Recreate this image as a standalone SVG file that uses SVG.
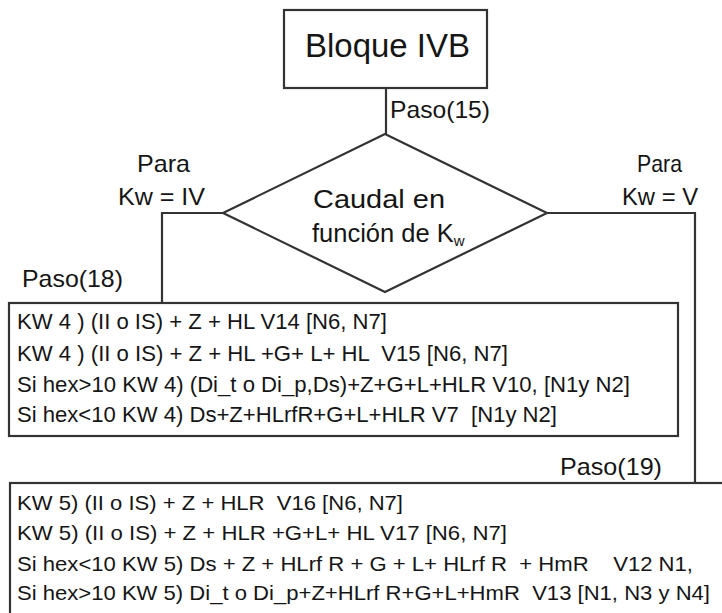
<svg xmlns="http://www.w3.org/2000/svg" width="722" height="613" viewBox="0 0 722 613">
<style>
.t{font-family:"Liberation Sans",Arial,sans-serif;fill:#151515}
.box{fill:#fff;stroke:#333;stroke-width:2.2}
.ln{fill:none;stroke:#333;stroke-width:2.2}
.s22{font-size:22px}
.s21{font-size:21px}
.s24{font-size:24px}
</style>
<rect width="722" height="613" fill="#fff"/>
<g id="connectors">
<path class="ln" d="M386,88 V134"/>
<path class="ln" d="M223,213 H162 V303"/>
<path class="ln" d="M547,213 H695 V483"/>
</g>
<g id="bloque">
<rect class="box" x="284" y="10" width="203" height="78"/>
<text class="t" x="305" y="57" font-size="34" textLength="165" lengthAdjust="spacingAndGlyphs">Bloque IVB</text>
</g>
<g id="paso15">
<text class="t s24" x="390" y="118" textLength="100" lengthAdjust="spacingAndGlyphs">Paso(15)</text>
</g>
<g id="decision">
<polygon class="box" points="385,134 547,213 385,292 223,213"/>
<text class="t" x="313" y="208" font-size="26" textLength="132" lengthAdjust="spacingAndGlyphs">Caudal en</text>
<text class="t" x="312" y="242" font-size="25.5">función de K<tspan font-size="15" dy="4">w</tspan></text>
</g>
<g id="label-iv">
<text class="t s24" x="137" y="172" textLength="53" lengthAdjust="spacingAndGlyphs">Para</text>
<text class="t s24" x="118" y="205" textLength="87" lengthAdjust="spacingAndGlyphs">Kw = IV</text>
</g>
<g id="label-v">
<text class="t s24" x="637" y="172" textLength="45" lengthAdjust="spacingAndGlyphs">Para</text>
<text class="t s24" x="622" y="205" textLength="76" lengthAdjust="spacingAndGlyphs">Kw = V</text>
</g>
<g id="paso18">
<text class="t s24" x="22" y="287" textLength="101" lengthAdjust="spacingAndGlyphs">Paso(18)</text>
</g>
<g id="box-kw4">
<rect class="box" x="9" y="303" width="669" height="133"/>
<text class="t s22" x="17" y="329" textLength="370" lengthAdjust="spacingAndGlyphs">KW 4 ) (II o IS) + Z + HL V14 [N6, N7]</text>
<text class="t s22" x="17" y="361" textLength="491" lengthAdjust="spacingAndGlyphs" xml:space="preserve">KW 4 ) (II o IS) + Z + HL +G+ L+ HL  V15 [N6, N7]</text>
<text class="t s22" x="17" y="392" textLength="613" lengthAdjust="spacingAndGlyphs">Si hex&gt;10 KW 4) (Di_t o Di_p,Ds)+Z+G+L+HLR V10, [N1y N2]</text>
<text class="t s22" x="17" y="422" textLength="540" lengthAdjust="spacingAndGlyphs" xml:space="preserve">Si hex&lt;10 KW 4) Ds+Z+HLrfR+G+L+HLR V7  [N1y N2]</text>
</g>
<g id="paso19">
<text class="t s24" x="560" y="475" textLength="102" lengthAdjust="spacingAndGlyphs">Paso(19)</text>
</g>
<g id="box-kw5">
<rect class="box" x="10" y="483" width="730" height="150"/>
<text class="t s21" x="17" y="510" textLength="386" lengthAdjust="spacingAndGlyphs" xml:space="preserve">KW 5) (II o IS) + Z + HLR  V16 [N6, N7]</text>
<text class="t s21" x="17" y="540" textLength="490" lengthAdjust="spacingAndGlyphs">KW 5) (II o IS) + Z + HLR +G+L+ HL V17 [N6, N7]</text>
<text class="t s21" x="17" y="571" textLength="676" lengthAdjust="spacingAndGlyphs" xml:space="preserve">Si hex&lt;10 KW 5) Ds + Z + HLrf R + G + L+ HLrf R  + HmR    V12 N1,</text>
<text class="t s21" x="17" y="600" textLength="693" lengthAdjust="spacingAndGlyphs" xml:space="preserve">Si hex&gt;10 KW 5) Di_t o Di_p+Z+HLrf R+G+L+HmR  V13 [N1, N3 y N4]</text>
</g>
</svg>
